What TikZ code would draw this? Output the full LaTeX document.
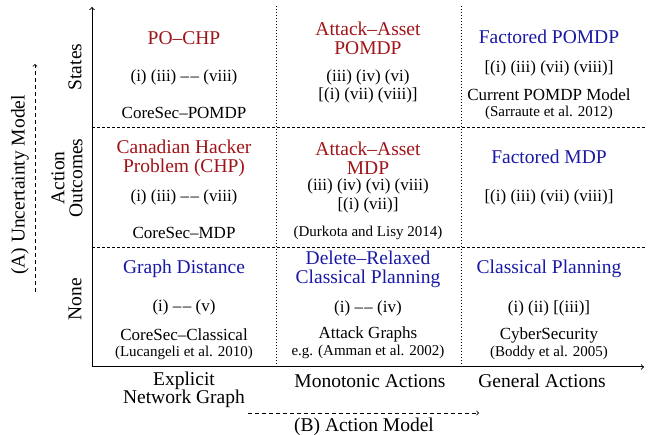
\documentclass[tikz,border=0pt]{standalone}
\usepackage{fontspec}
\setmainfont{Liberation Serif}
\usepackage{tikz}
\usetikzlibrary{arrows}
\definecolor{modelred}{RGB}{160,20,25}
\definecolor{modelblue}{RGB}{25,25,165}
\newcommand{\ddash}{–\kern1.5pt–}

\begin{document}
\begin{tikzpicture}[x=1pt, y=-1pt, >=to]
  \tikzstyle{redname} = [text=modelred, align=center, font=\fontsize{19.5}{19}\selectfont]
  \tikzstyle{bluename} = [text=modelblue, align=center, font=\fontsize{19.5}{19}\selectfont]
  \tikzstyle{props} = [align=center, font=\fontsize{17}{18.5}\selectfont]
  \tikzstyle{citetext} = [align=center, font=\fontsize{15}{18}\selectfont]
  \tikzstyle{axislabel} = [align=center, font=\fontsize{19.5}{18}\selectfont]
  \tikzstyle{gridv} = [line width=0.8pt, dash pattern=on 1pt off 2pt]
  \tikzstyle{gridh} = [line width=0.8pt, dash pattern=on 3pt off 2pt]
  \tikzstyle{modelarrow} = [->, line width=0.8pt, dash pattern=on 4pt off 3pt]

  \useasboundingbox (0,0) rectangle (649,435);

  % axes and grid
  \coordinate (origin) at (92,367);
  \coordinate (y_top) at (92,7);
  \coordinate (x_end) at (644,367);
  \coordinate (col1_bot) at (276,367);
  \coordinate (col1_top) at (276,5);
  \coordinate (col2_bot) at (461,367);
  \coordinate (col2_top) at (461,5);
  \coordinate (row1_l) at (92,127);
  \coordinate (row1_r) at (646,127);
  \coordinate (row2_l) at (92,247);
  \coordinate (row2_r) at (646,247);

  \draw[gridv] (col1_bot) -- (col1_top);
  \draw[gridv] (col2_bot) -- (col2_top);
  \draw[gridh] (row1_l) -- (row1_r);
  \draw[gridh] (row2_l) -- (row2_r);
  \draw[->, line width=1pt] (origin) -- (y_top);
  \draw[->, line width=1pt] (origin) -- (x_end);

  % uncertainty model axis
  \node[axislabel, rotate=90] (lbl_states) at (75,67) {States};
  \node[axislabel, rotate=90] (lbl_outcomes) at (67,178) {Action\\Outcomes};
  \node[axislabel, rotate=90] (lbl_none) at (75,299) {None};
  \node[axislabel, rotate=90] (lbl_unc) at (20,185) {(A) Uncertainty Model};
  \coordinate (unc_from) at (35,292);
  \coordinate (unc_to) at (35,64);
  \draw[modelarrow] (unc_from) -- (unc_to);

  % action model axis
  \node[axislabel] (lbl_explicit) at (184,390) {Explicit\\Network Graph};
  \node[axislabel] (lbl_mono) at (370,381) {Monotonic Actions};
  \node[axislabel] (lbl_general) at (542,381) {General Actions};
  \node[axislabel] (lbl_act) at (364,427) {(B) Action Model};
  \coordinate (act_from) at (248,413);
  \coordinate (act_to) at (479,413);
  \draw[modelarrow] (act_from) -- (act_to);

  % states row
  \node[redname] (po_chp) at (184,38) {PO–CHP};
  \node[props] (po_chp_p) at (184,77) {(i) (iii) \ddash{} (viii)};
  \node[props] (cs_pomdp) at (184,113) {CoreSec–POMDP};

  \node[redname] (aa_pomdp) at (368,38.5) {Attack–Asset\\POMDP};
  \node[props] (aa_pomdp_p) at (368,86.5) {(iii) (iv) (vi)\\{}[(i) (vii) (viii)]};

  \node[bluename] (f_pomdp) at (549,37) {Factored POMDP};
  \node[props] (f_pomdp_p) at (549,68) {[(i) (iii) (vii) (viii)]};
  \node[props] (cur_pomdp) at (549,95) {Current POMDP Model};
  \node[citetext] (sarraute) at (549,113) {(Sarraute et al. 2012)};

  % action outcomes row
  \node[redname] (chp) at (184,158.5) {Canadian Hacker\\Problem (CHP)};
  \node[props] (chp_p) at (184,197) {(i) (iii) \ddash{} (viii)};
  \node[props] (cs_mdp) at (184,233) {CoreSec–MDP};

  \node[redname] (aa_mdp) at (368,158.5) {Attack–Asset\\MDP};
  \node[props] (aa_mdp_p) at (368,196) {(iii) (iv) (vi) (viii)\\{}[(i) (vii)]};
  \node[citetext] (durkota) at (368,233) {(Durkota and Lisy 2014)};

  \node[bluename] (f_mdp) at (549,157) {Factored MDP};
  \node[props] (f_mdp_p) at (549,197) {[(i) (iii) (vii) (viii)]};

  % none row
  \node[bluename] (gdist) at (184,269) {Graph Distance};
  \node[props] (gdist_p) at (184,307) {(i) \ddash{} (v)};
  \node[props] (cs_class) at (184,335) {CoreSec–Classical};
  \node[citetext] (lucangeli) at (184,353) {(Lucangeli et al. 2010)};

  \node[bluename] (delrel) at (368,269) {Delete–Relaxed\\Classical Planning};
  \node[props] (delrel_p) at (368,308) {(i) \ddash{} (iv)};
  \node[props] (att_graphs) at (368,334) {Attack Graphs};
  \node[citetext] (amman) at (368,352) {e.g. (Amman et al. 2002)};

  \node[bluename] (class_plan) at (549,269) {Classical Planning};
  \node[props] (class_plan_p) at (549,308) {(i) (ii) [(iii)]};
  \node[props] (cybersec) at (549,335) {CyberSecurity};
  \node[citetext] (boddy) at (549,353) {(Boddy et al. 2005)};
\end{tikzpicture}
\end{document}
